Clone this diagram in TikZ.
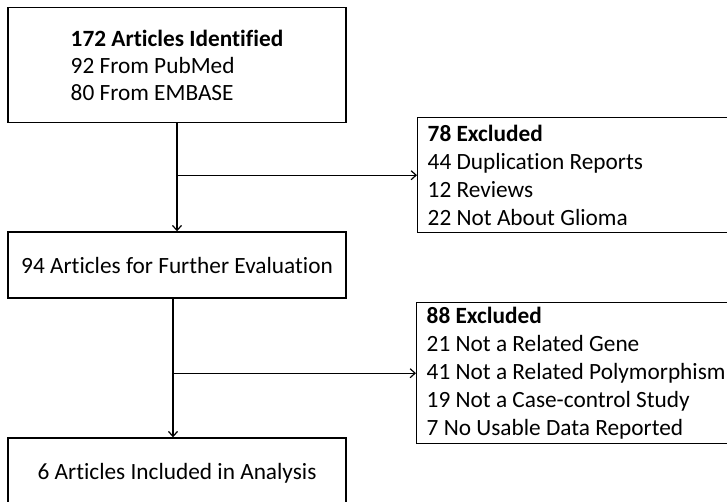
\documentclass[tikz,border=0pt]{standalone}
\usepackage{fontspec}
\setmainfont[Ligatures=NoCommon]{Carlito}
\usetikzlibrary{arrows.meta}
\begin{document}
\begin{tikzpicture}[x=1pt,y=-1pt,
  box/.style={draw, line width=1.4pt, rectangle, align=left, font=\fontsize{23.3}{27}\selectfont, inner sep=0pt},
  exbox/.style={draw, line width=1.4pt, rectangle, align=flush left, font=\fontsize{23.3}{28}\selectfont, inner xsep=10pt, inner ysep=0pt, anchor=north west, text width=300pt},
  conn/.style={line width=1.2pt, -{Straight Barb[length=5pt,width=9pt,line width=1.2pt]}}]
\useasboundingbox (0,0) rectangle (727,501);
\clip (0,0) rectangle (727,501);
\node[box, minimum width=338pt, minimum height=115pt] (b1) at (177,65)
  {\textbf{172 Articles Identified}\\92 From PubMed\\80 From EMBASE};
\node[box, minimum width=338pt, minimum height=66pt] (b2) at (177,265)
  {94 Articles for Further Evaluation};
\node[box, minimum width=338pt, minimum height=70pt] (b3) at (177,473)
  {6 Articles Included in Analysis};
\node[exbox, minimum height=115pt] (e1) at (417,117)
  {\textbf{78 Excluded}\\44 Duplication Reports\\12 Reviews\\22 Not About Glioma};
\node[exbox, minimum height=141pt] (e2) at (416,302)
  {\textbf{88 Excluded}\\21 Not a Related Gene\\41 Not a Related Polymorphism\\19 Not a Case-control Study\\7 No Usable Data Reported};
\coordinate (j1) at (b1.south |- e1.west);
\coordinate (t2) at ([xshift=-4pt]b2.south);
\coordinate (j2) at (t2 |- e2.west);
\draw[conn] (b1.south) -- (b2.north);
\draw[conn] (j1) -- (e1.west);
\draw[conn] (t2) -- (t2 |- b3.north);
\draw[conn] (j2) -- (e2.west);
\end{tikzpicture}
\end{document}
